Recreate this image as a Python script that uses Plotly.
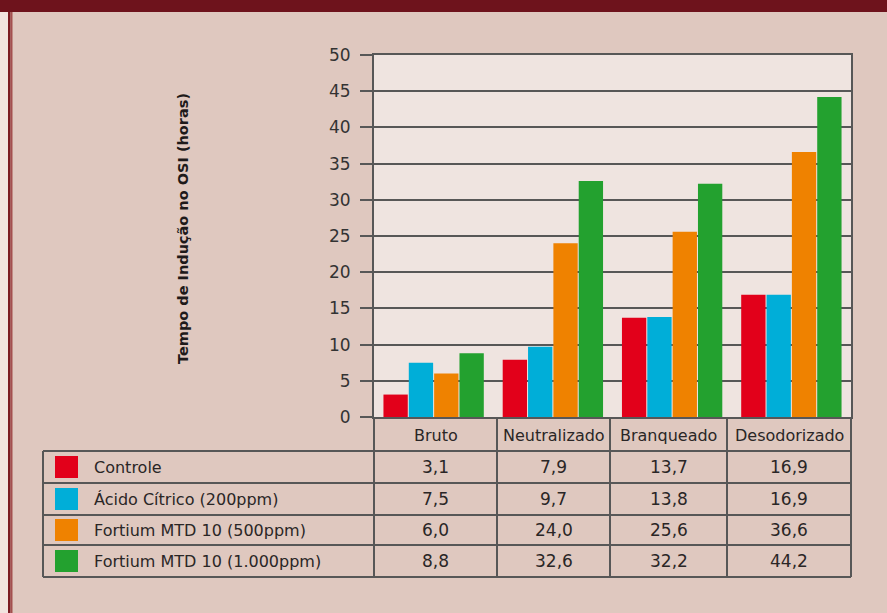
import plotly.graph_objects as go

# ---- data ----
categories = ["Bruto", "Neutralizado", "Branqueado", "Desodorizado"]
series_names = ["Controle", "Ácido Cítrico (200ppm)",
                "Fortium MTD 10 (500ppm)", "Fortium MTD 10 (1.000ppm)"]
controle = [3.1, 7.9, 13.7, 16.9]
acido_citrico = [7.5, 9.7, 13.8, 16.9]
fortium_500 = [6.0, 24.0, 25.6, 36.6]
fortium_1000 = [8.8, 32.6, 32.2, 44.2]
y_ticks = [0, 5, 10, 15, 20, 25, 30, 35, 40, 45, 50]
y_title = "Tempo de Indução no OSI (horas)"

series_values = [controle, acido_citrico, fortium_500, fortium_1000]
colors = ["#e2001a", "#00aed8", "#ef8200", "#23a12f"]

# ---- geometry (pixels) ----
W, H = 887, 613
L, R, T, B = 374, 851, 55, 417
col_edges = [374, 497, 610, 727, 851]
row_edges = [451, 483, 515, 545, 577]
table_left = 43

FONT = "DejaVu Sans, Verdana, sans-serif"
TXT = "#2a2626"
LINE = "#575757"
BG = "#dfc8bf"


def px(x):
    return (x - L) / (R - L)


def py(y):
    return (B - y) / (B - T)


fig = go.Figure()
for name, vals, c in zip(series_names, series_values, colors):
    fig.add_trace(go.Bar(x=categories, y=vals, name=name,
                         marker=dict(color=c, line=dict(width=0))))

shapes = []
annotations = []

# top bar and left border
shapes.append(dict(type="rect", xref="paper", yref="paper", x0=px(0), x1=px(W),
                   y0=py(12), y1=py(0), fillcolor="#6e131c", line=dict(width=0), layer="below"))
shapes.append(dict(type="rect", xref="paper", yref="paper", x0=px(0), x1=px(8),
                   y0=py(H), y1=py(12), fillcolor="#f1e4df", line=dict(width=0), layer="below"))
shapes.append(dict(type="rect", xref="paper", yref="paper", x0=px(8), x1=px(10.5),
                   y0=py(H), y1=py(12), fillcolor="#7a1b22", line=dict(width=0), layer="below"))
shapes.append(dict(type="rect", xref="paper", yref="paper", x0=px(10.5), x1=px(12.5),
                   y0=py(H), y1=py(12), fillcolor="#a4504f", line=dict(width=0), layer="below"))


def hline(x0, x1, y):
    shapes.append(dict(type="line", xref="paper", yref="paper", x0=px(x0), x1=px(x1),
                       y0=py(y), y1=py(y), line=dict(color=LINE, width=2)))


def vline(x, y0, y1):
    shapes.append(dict(type="line", xref="paper", yref="paper", x0=px(x), x1=px(x),
                       y0=py(y0), y1=py(y1), line=dict(color=LINE, width=2)))


# table grid
for x in col_edges:
    vline(x, B, row_edges[-1])
vline(table_left, row_edges[0], row_edges[-1])
for y in row_edges:
    hline(table_left, col_edges[-1], y)

# header labels
for i, cat in enumerate(categories):
    cx = (col_edges[i] + col_edges[i + 1]) / 2
    annotations.append(dict(xref="paper", yref="paper", x=px(cx), y=py((B + row_edges[0]) / 2 + 1),
                            text=cat, showarrow=False, xanchor="center", yanchor="middle",
                            font=dict(family=FONT, size=16, color=TXT)))

# rows
for r, (name, vals, c) in enumerate(zip(series_names, series_values, colors)):
    cy = (row_edges[r] + row_edges[r + 1]) / 2
    shapes.append(dict(type="rect", xref="paper", yref="paper", x0=px(55), x1=px(78),
                       y0=py(cy + 11), y1=py(cy - 11), fillcolor=c, line=dict(width=0)))
    annotations.append(dict(xref="paper", yref="paper", x=px(92), y=py(cy),
                            text=name, showarrow=False, xanchor="left", yanchor="middle",
                            font=dict(family=FONT, size=16, color=TXT)))
    for i, v in enumerate(vals):
        cx = (col_edges[i] + col_edges[i + 1]) / 2
        annotations.append(dict(xref="paper", yref="paper", x=px(cx), y=py(cy),
                                text=f"{v:.1f}".replace(".", ","), showarrow=False,
                                xanchor="center", yanchor="middle",
                                font=dict(family=FONT, size=17, color=TXT)))

# y title
annotations.append(dict(xref="paper", yref="paper", x=px(183), y=py(229), text=f"<b>{y_title}</b>",
                        textangle=-90, showarrow=False, xanchor="center", yanchor="middle",
                        font=dict(family=FONT, size=14.5, color="#1e1a1a")))

fig.update_layout(
    width=W, height=H,
    margin=dict(l=L, r=W - R, t=T, b=H - B, pad=0),
    paper_bgcolor=BG, plot_bgcolor="#efe4e0",
    barmode="group", bargap=0.15, bargroupgap=0.04,
    showlegend=False,
    shapes=shapes, annotations=annotations,
    xaxis=dict(showticklabels=False, showgrid=False, ticks="", showline=True, mirror=True,
               linecolor=LINE, linewidth=2, fixedrange=True),
    yaxis=dict(range=[0, 50], tickvals=y_ticks, ticks="outside", ticklen=12, tickwidth=2,
               tickcolor=LINE, showline=True, mirror=True, linecolor=LINE, linewidth=2,
               showgrid=True, gridcolor=LINE, gridwidth=2, zeroline=False,
               ticklabelstandoff=6,
               tickfont=dict(family=FONT, size=17, color="#333")),
)

fig.write_html("out.html")
